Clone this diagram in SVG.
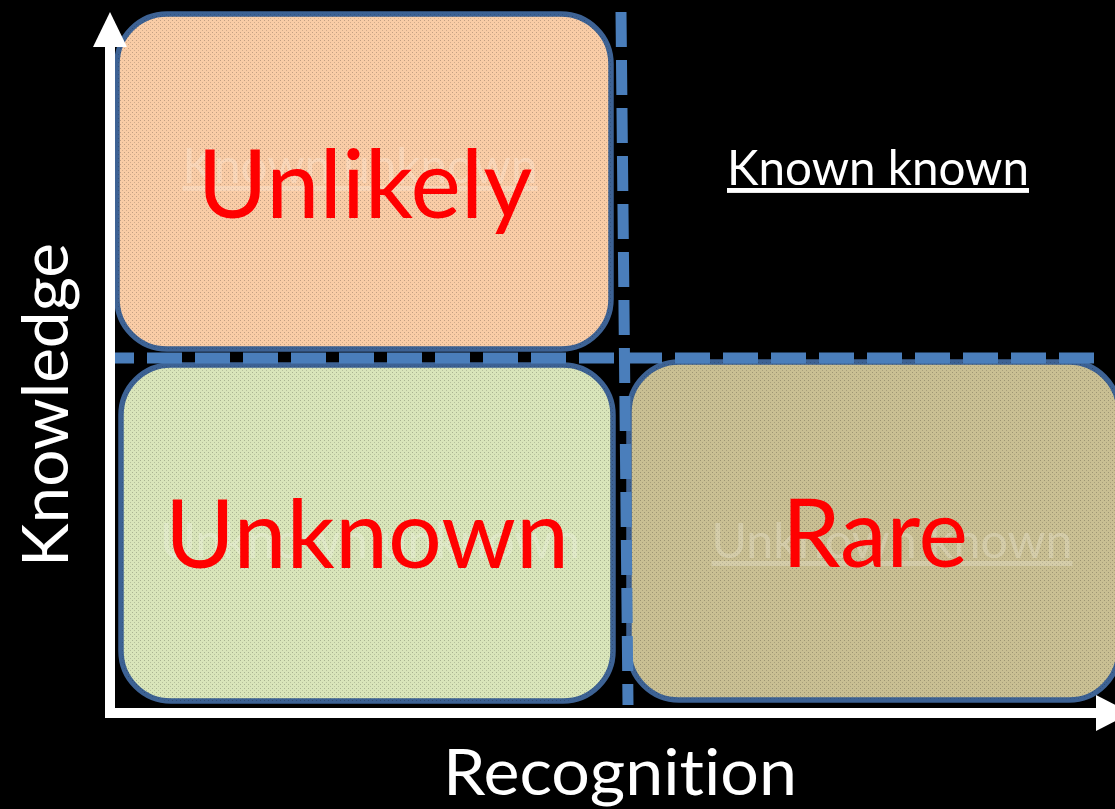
<svg xmlns="http://www.w3.org/2000/svg" width="1115" height="809" viewBox="0 0 1115 809">
  <style>
    text { font-variant-ligatures: none; }
    .box { stroke: #3d6294; stroke-width: 5.5; }
    .big { font-family: Lato, "Open Sans", sans-serif; font-size: 95px; fill: #ff0000; text-anchor: middle; }
    .ghost { font-family: Lato, "Open Sans", sans-serif; font-size: 49px; fill: #ffffff; fill-opacity: 0.22; text-anchor: middle; }
    .lbl { font-family: Lato, "Open Sans", sans-serif; fill: #ffffff; text-anchor: middle; }
    .dash { stroke: #4a7ebb; stroke-width: 11; fill: none; stroke-dasharray: 35 13; }
    .axis { stroke: #ffffff; stroke-width: 10; fill: none; }
  </style>
  <defs>
    <pattern id="dots" width="4" height="4" patternUnits="userSpaceOnUse">
      <rect x="0" y="0" width="1" height="1" fill="#000" fill-opacity="0.22"/>
      <rect x="2" y="2" width="1" height="1" fill="#000" fill-opacity="0.16"/>
    </pattern>
  </defs>
  <rect width="1115" height="809" fill="#000000"/>

  <g id="node-unlikely">
    <rect class="box" x="117" y="14" width="494" height="335" rx="50" fill="#f9cca6"/>
    <rect x="117" y="14" width="494" height="335" rx="50" fill="url(#dots)"/>
    <text class="ghost" x="360" y="183" text-decoration="underline" textLength="355" lengthAdjust="spacingAndGlyphs">Known unknown</text>
    <text class="big" x="365" y="218" textLength="335" lengthAdjust="spacingAndGlyphs">Unlikely</text>
  </g>

  <g id="node-unknown">
    <rect class="box" x="121" y="365" width="492" height="336" rx="50" fill="#d9e5ba"/>
    <rect x="121" y="365" width="492" height="336" rx="50" fill="url(#dots)"/>
    <text class="ghost" x="370" y="558" textLength="420" lengthAdjust="spacingAndGlyphs">Unknown unknown</text>
    <text class="big" x="367" y="568" textLength="404" lengthAdjust="spacingAndGlyphs">Unknown</text>
  </g>

  <g id="node-rare">
    <rect class="box" x="629" y="362" width="490" height="338" rx="50" fill="#c9bf93"/>
    <rect x="629" y="362" width="490" height="338" rx="50" fill="url(#dots)"/>
    <text class="ghost" x="892" y="558" text-decoration="underline" textLength="361" lengthAdjust="spacingAndGlyphs">Unknown known</text>
    <text class="big" x="875" y="567" textLength="186" lengthAdjust="spacingAndGlyphs">Rare</text>
  </g>

  <g id="node-known">
    <text class="lbl" x="878" y="185" font-size="49" text-decoration="underline" textLength="302" lengthAdjust="spacingAndGlyphs">Known known</text>
  </g>

  <g id="connectors">
    <line class="dash" x1="621" y1="12" x2="628" y2="705"/>
    <line class="dash" x1="115" y1="358" x2="1095" y2="358" stroke-dashoffset="16"/>
    <line class="axis" x1="110" y1="45" x2="110" y2="718"/>
    <polygon points="110,12 93,47 127,47" fill="#ffffff"/>
    <line class="axis" x1="105" y1="713" x2="1100" y2="713"/>
    <polygon points="1096,695 1131,713 1096,731" fill="#ffffff"/>
  </g>

  <g id="axis-labels">
    <text class="lbl" x="620" y="795" font-size="63" textLength="354" lengthAdjust="spacingAndGlyphs">Recognition</text>
    <text class="lbl" transform="translate(68,405) rotate(-90)" x="0" y="0" font-size="63" textLength="324" lengthAdjust="spacingAndGlyphs">Knowledge</text>
  </g>
</svg>
